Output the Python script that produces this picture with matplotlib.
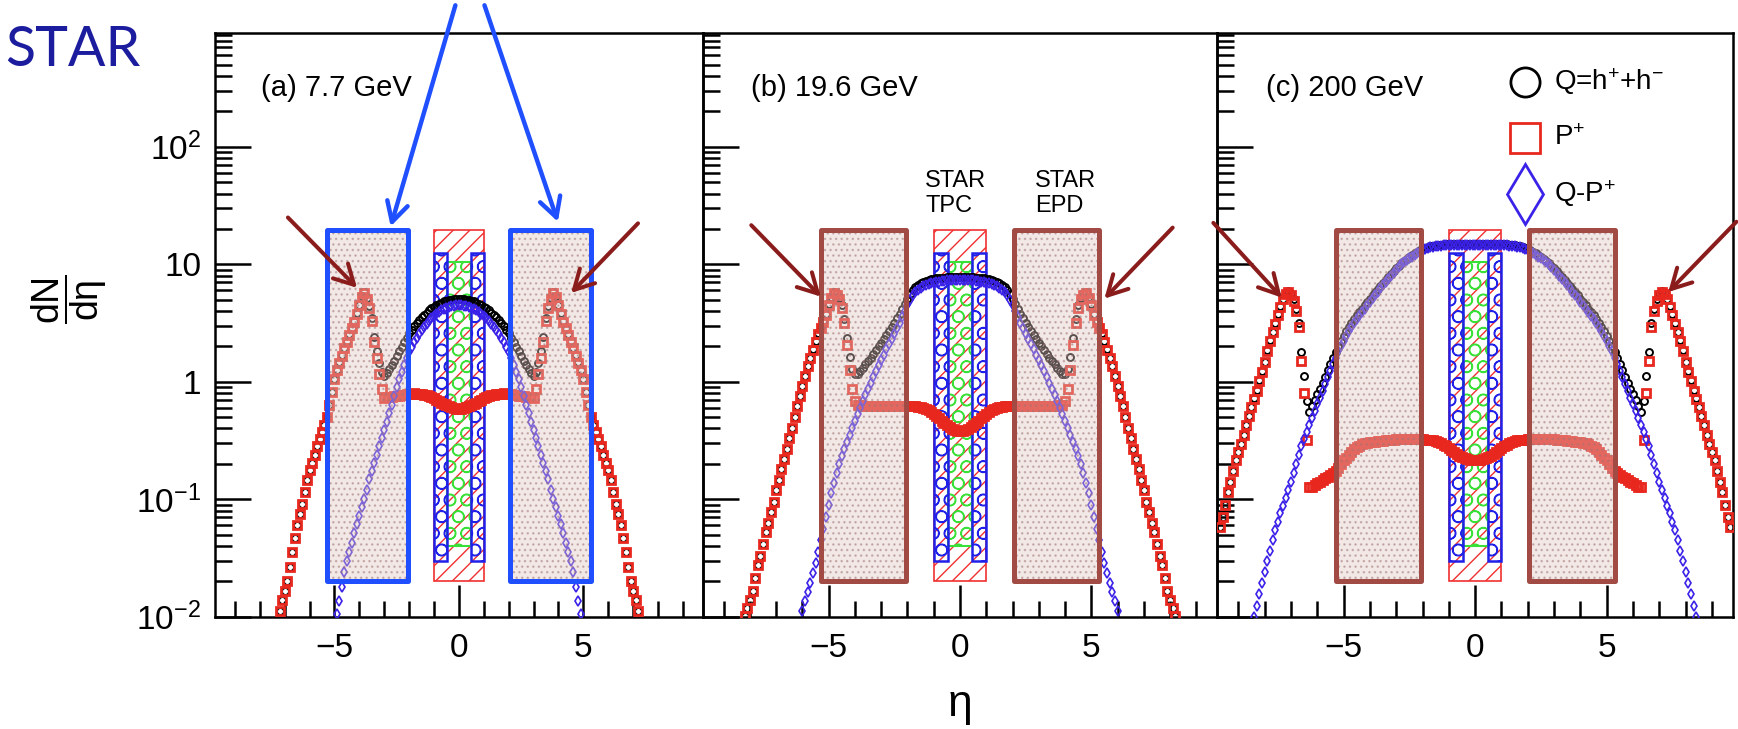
import numpy as np
import matplotlib
matplotlib.use('Agg')
import matplotlib.pyplot as plt
from matplotlib.patches import Rectangle
from matplotlib.ticker import LogLocator, MultipleLocator, NullFormatter

plt.rcParams['font.family'] = ['Liberation Sans', 'DejaVu Sans']
plt.rcParams['mathtext.fontset'] = 'custom'
plt.rcParams['mathtext.rm'] = 'Liberation Sans'
plt.rcParams['mathtext.it'] = 'Liberation Sans:italic'
plt.rcParams['mathtext.bf'] = 'Liberation Sans:bold'
plt.rcParams['hatch.linewidth'] = 1.0

DETA = 0.1  # eta bin width of the model histograms

# log10(dN/deta) for eta >= 0 (distributions are symmetric in eta)
# (a) 7.7 GeV
logq_77 = [0.704, 0.703, 0.702, 0.699, 0.696, 0.690, 0.683, 0.674, 0.664, 0.652,
           0.639, 0.624, 0.607, 0.589, 0.570, 0.549, 0.525, 0.499, 0.471, 0.442,
           0.413, 0.374, 0.335, 0.296, 0.258, 0.219, 0.179, 0.141, 0.107, 0.075,
           0.048, 0.080, 0.163, 0.261, 0.379, 0.542, 0.645, 0.710, 0.760, 0.727,
           0.657, 0.587, 0.517, 0.461, 0.406, 0.346, 0.290, 0.225, 0.164, 0.103,
           0.020, -0.090, -0.200, -0.300, -0.370, -0.430, -0.490, -0.550, -0.620, -0.690,
           -0.750, -0.840, -0.940, -1.040, -1.130, -1.220, -1.330, -1.450, -1.580, -1.700,
           -1.780, -1.860, -1.950]
logp_77 = [-0.230, -0.228, -0.224, -0.218, -0.210, -0.200, -0.189, -0.177, -0.165, -0.153,
           -0.142, -0.132, -0.123, -0.116, -0.110, -0.106, -0.103, -0.101, -0.100, -0.101,
           -0.104, -0.108, -0.112, -0.116, -0.119, -0.122, -0.125, -0.128, -0.130, -0.133,
           -0.135, -0.060, 0.070, 0.200, 0.340, 0.520, 0.630, 0.700, 0.752, 0.720,
           0.650, 0.580, 0.510, 0.455, 0.400, 0.340, 0.285, 0.220, 0.160, 0.100,
           0.020, -0.090, -0.200, -0.300, -0.370, -0.430, -0.490, -0.550, -0.620, -0.690,
           -0.750, -0.840, -0.940, -1.040, -1.130, -1.220, -1.330, -1.450, -1.580, -1.700,
           -1.780, -1.860, -1.950]
logqp_77 = [0.650, 0.649, 0.647, 0.643, 0.638, 0.630, 0.620, 0.608, 0.594, 0.578,
            0.560, 0.540, 0.518, 0.494, 0.468, 0.440, 0.408, 0.373, 0.335, 0.295,
            0.255, 0.200, 0.143, 0.083, 0.022, -0.045, -0.120, -0.195, -0.270, -0.345,
            -0.415, -0.480, -0.550, -0.620, -0.690, -0.760, -0.830, -0.920, -1.000, -1.070,
            -1.140, -1.210, -1.290, -1.370, -1.450, -1.530, -1.620, -1.750, -1.870, -1.980]

# (b) 19.6 GeV
logq_196 = [0.892, 0.892, 0.891, 0.891, 0.890, 0.888, 0.886, 0.884, 0.882, 0.879,
            0.875, 0.871, 0.865, 0.859, 0.850, 0.840, 0.827, 0.809, 0.782, 0.746,
            0.707, 0.663, 0.620, 0.578, 0.541, 0.504, 0.468, 0.433, 0.399, 0.366,
            0.333, 0.301, 0.267, 0.235, 0.204, 0.175, 0.147, 0.118, 0.090, 0.065,
            0.064, 0.107, 0.208, 0.371, 0.535, 0.653, 0.717, 0.753, 0.762, 0.719,
            0.659, 0.578, 0.517, 0.462, 0.411, 0.346, 0.275, 0.205, 0.135, 0.050,
            -0.035, -0.120, -0.210, -0.300, -0.390, -0.480, -0.570, -0.655, -0.745, -0.835,
            -0.925, -1.020, -1.110, -1.200, -1.280, -1.380, -1.480, -1.560, -1.670, -1.780,
            -1.860, -1.930, -1.990]
logp_196 = [-0.420, -0.418, -0.410, -0.400, -0.385, -0.370, -0.350, -0.330, -0.310, -0.290,
            -0.272, -0.256, -0.243, -0.233, -0.225, -0.218, -0.213, -0.210, -0.208, -0.207,
            -0.206, -0.205, -0.205, -0.204, -0.204, -0.204, -0.205, -0.205, -0.206, -0.206,
            -0.206, -0.207, -0.207, -0.207, -0.206, -0.205, -0.204, -0.203, -0.202, -0.200,
            -0.160, -0.060, 0.100, 0.310, 0.500, 0.630, 0.700, 0.740, 0.752, 0.710,
            0.650, 0.570, 0.510, 0.455, 0.405, 0.340, 0.270, 0.200, 0.130, 0.045,
            -0.040, -0.120, -0.210, -0.300, -0.390, -0.480, -0.570, -0.655, -0.745, -0.835,
            -0.925, -1.020, -1.110, -1.200, -1.280, -1.380, -1.480, -1.560, -1.670, -1.780,
            -1.860, -1.930, -1.990]
logqp_196 = [0.870, 0.870, 0.869, 0.868, 0.866, 0.863, 0.860, 0.857, 0.853, 0.848,
             0.843, 0.837, 0.830, 0.822, 0.812, 0.800, 0.785, 0.765, 0.735, 0.695,
             0.650, 0.600, 0.550, 0.500, 0.455, 0.410, 0.365, 0.320, 0.275, 0.230,
             0.185, 0.140, 0.090, 0.040, -0.010, -0.060, -0.110, -0.165, -0.220, -0.275,
             -0.330, -0.390, -0.450, -0.510, -0.570, -0.635, -0.700, -0.780, -0.860, -0.950,
             -1.050, -1.150, -1.250, -1.350, -1.450, -1.540, -1.630, -1.710, -1.790, -1.870,
             -1.950]

# (c) 200 GeV
logq_200 = [1.171, 1.171, 1.171, 1.173, 1.173, 1.173, 1.173, 1.173, 1.172, 1.172,
            1.171, 1.170, 1.169, 1.167, 1.164, 1.161, 1.158, 1.153, 1.148, 1.140,
            1.130, 1.119, 1.107, 1.092, 1.077, 1.063, 1.048, 1.031, 1.014, 0.989,
            0.965, 0.941, 0.917, 0.893, 0.869, 0.843, 0.816, 0.790, 0.764, 0.736,
            0.707, 0.679, 0.650, 0.621, 0.593, 0.564, 0.535, 0.501, 0.467, 0.428,
            0.390, 0.346, 0.301, 0.250, 0.198, 0.148, 0.097, 0.044, -0.010, -0.058,
            -0.107, -0.159, -0.210, -0.257, -0.162, 0.048, 0.254, 0.503, 0.621, 0.705,
            0.751, 0.775, 0.753, 0.708, 0.647, 0.573, 0.498, 0.427, 0.357, 0.267,
            0.172, 0.092, 0.012, -0.069, -0.139, -0.215, -0.295, -0.370, -0.450, -0.530,
            -0.600, -0.670, -0.760, -0.855, -0.940, -1.050, -1.150, -1.240]
logp_200 = [-0.670, -0.669, -0.665, -0.658, -0.650, -0.641, -0.630, -0.616, -0.600, -0.583,
            -0.565, -0.549, -0.535, -0.524, -0.515, -0.507, -0.500, -0.497, -0.495, -0.492,
            -0.490, -0.488, -0.487, -0.485, -0.485, -0.486, -0.487, -0.488, -0.489, -0.490,
            -0.490, -0.492, -0.495, -0.497, -0.500, -0.502, -0.505, -0.507, -0.510, -0.512,
            -0.515, -0.519, -0.525, -0.534, -0.545, -0.559, -0.575, -0.596, -0.620, -0.645,
            -0.670, -0.702, -0.735, -0.760, -0.780, -0.796, -0.810, -0.822, -0.835, -0.850,
            -0.865, -0.880, -0.895, -0.900, -0.500, -0.100, 0.180, 0.470, 0.600, 0.690,
            0.740, 0.766, 0.745, 0.700, 0.640, 0.565, 0.490, 0.420, 0.350, 0.260,
            0.165, 0.085, 0.005, -0.075, -0.145, -0.215, -0.295, -0.370, -0.450, -0.530,
            -0.600, -0.670, -0.760, -0.855, -0.940, -1.050, -1.150, -1.240]
logqp_200 = [1.165, 1.165, 1.165, 1.166, 1.166, 1.166, 1.166, 1.166, 1.165, 1.164,
             1.163, 1.162, 1.160, 1.158, 1.155, 1.152, 1.148, 1.143, 1.138, 1.130,
             1.120, 1.108, 1.095, 1.080, 1.065, 1.050, 1.035, 1.018, 1.000, 0.975,
             0.950, 0.925, 0.900, 0.875, 0.850, 0.823, 0.795, 0.768, 0.740, 0.710,
             0.680, 0.650, 0.620, 0.590, 0.560, 0.530, 0.500, 0.465, 0.430, 0.390,
             0.350, 0.305, 0.260, 0.205, 0.150, 0.095, 0.040, -0.020, -0.080, -0.135,
             -0.190, -0.250, -0.310, -0.370, -0.430, -0.490, -0.550, -0.625, -0.700, -0.775,
             -0.850, -0.920, -0.990, -1.055, -1.120, -1.190, -1.260, -1.350, -1.440, -1.530,
             -1.620, -1.715, -1.810, -1.905, -2.000]

panel_labels = ['(a) 7.7 GeV', '(b) 19.6 GeV', '(c) 200 GeV']
series = [(logq_77, logp_77, logqp_77),
          (logq_196, logp_196, logqp_196),
          (logq_200, logp_200, logqp_200)]

# detector acceptance boxes (eta ranges, dN/deta extent)
epd_eta = [2.05, 5.3]
tpc_eta = 1.0
tpc_inner = 0.47
box_y = [0.02, 19.5]
tpc_side_y = [0.03, 12.4]
tpc_mid_y = [0.04, 10.5]

# arrows (tail, tip) in data coords
peak_arrows = [[((-6.87, 25.0), (-4.09, 6.3)), ((7.2, 22.3), (4.51, 5.7))],
               [((-7.95, 21.5), (-5.3, 5.3)), ((8.1, 20.5), (5.5, 5.1))],
               [((-9.95, 22.5), (-7.35, 5.2)), ((9.93, 23.0), (7.34, 5.8))]]
epd_arrows = [((-0.14, 1600.0), (-2.74, 21.0)), ((1.03, 1600.0), (3.98, 23.0))]

c_q, c_p, c_qp = 'black', '#E8281E', '#3B22E8'
c_epd_a, c_epd = '#1F4FFF', '#A24B45'
c_arrow = '#8B1C1C'


def mirror(logs):
    vals = 10.0 ** np.asarray(logs)
    eta = DETA * np.arange(len(vals))
    return np.concatenate([-eta[:0:-1], eta]), np.concatenate([vals[:0:-1], vals])


def arrow(ax, tail, tip, color, lw):
    ax.annotate('', xy=tip, xytext=tail, xycoords='data', textcoords='data',
                annotation_clip=False, zorder=9,
                arrowprops=dict(arrowstyle='->,head_length=0.7,head_width=0.38',
                                color=color, lw=lw, mutation_scale=20,
                                shrinkA=0, shrinkB=0))


fig = plt.figure(figsize=(17.38, 7.29), dpi=100)
bottom, height = 0.15405, 0.80069
lefts = [0.12371, 0.40432, 0.70040]
widths = [0.28061, 0.29609, 0.29672]

for i in range(3):
    ax = fig.add_axes([lefts[i], bottom, widths[i], height])
    ax.set_facecolor('none')
    ax.set_yscale('log')
    ax.set_xlim(-9.8, 9.8)
    ax.set_ylim(0.01, 930)

    # TPC acceptance
    ax.add_patch(Rectangle((-tpc_eta, box_y[0]), 2 * tpc_eta, box_y[1] - box_y[0],
                           fill=False, edgecolor='#F03030', lw=1.2, hatch='//', zorder=1))
    ax.add_patch(Rectangle((-tpc_inner, tpc_mid_y[0]), 2 * tpc_inner, tpc_mid_y[1] - tpc_mid_y[0],
                           fill=False, edgecolor='#38E038', lw=1.5, hatch='O', zorder=1.1))
    for x0 in (-tpc_eta, tpc_inner):
        ax.add_patch(Rectangle((x0, tpc_side_y[0]), tpc_eta - tpc_inner, tpc_side_y[1] - tpc_side_y[0],
                               fill=False, edgecolor='#2020E8', lw=1.8, hatch='O', zorder=1.2))

    lq, lp, lqp = series[i]
    ex, yv = mirror(lq)
    ax.plot(ex, yv, ls='none', marker='o', ms=5.0, mfc='none', mec=c_q, mew=1.4, zorder=3)
    ex, yv = mirror(lp)
    ax.plot(ex, yv, ls='none', marker='s', ms=6.0, mfc='none', mec=c_p, mew=2.0, zorder=4)
    ex, yv = mirror(lqp)
    ax.plot(ex, yv, ls='none', marker='d', ms=5.5, mfc='none', mec=c_qp, mew=1.2, zorder=5)

    # EPD acceptance, drawn over the points
    edge = c_epd_a if i == 0 else c_epd
    for lo, hi in ((-epd_eta[1], -epd_eta[0]), (epd_eta[0], epd_eta[1])):
        ax.add_patch(Rectangle((lo, box_y[0]), hi - lo, box_y[1] - box_y[0],
                               facecolor=(0.88, 0.78, 0.76, 0.40),
                               edgecolor=(0.62, 0.45, 0.45, 0.45),
                               lw=0, hatch='...', zorder=6))
        ax.add_patch(Rectangle((lo, box_y[0]), hi - lo, box_y[1] - box_y[0],
                               fill=False, edgecolor=edge, lw=3.6,
                               joinstyle='round', zorder=7))

    for tail, tip in peak_arrows[i]:
        arrow(ax, tail, tip, c_arrow, 2.9)
    if i == 0:
        for tail, tip in epd_arrows:
            arrow(ax, tail, tip, c_epd_a, 3.2)

    ax.text(0.094, 0.905, panel_labels[i], transform=ax.transAxes,
            fontsize=21, ha='left', va='center')

    # axes styling
    for sp in ax.spines.values():
        sp.set_linewidth(1.8)
    ax.set_xticks([-5, 0, 5])
    ax.xaxis.set_minor_locator(MultipleLocator(1))
    ax.set_yticks([0.01, 0.1, 1, 10, 100])
    ax.yaxis.set_minor_locator(LogLocator(base=10, subs=np.arange(2, 10), numticks=20))
    ax.yaxis.set_minor_formatter(NullFormatter())
    ax.tick_params(axis='both', which='both', direction='in', top=False, right=False, width=1.8)
    ax.tick_params(axis='y', which='major', length=26, labelsize=24, pad=10)
    ax.tick_params(axis='y', which='minor', length=12.5)
    ax.tick_params(axis='x', which='major', length=23, labelsize=24, pad=12)
    ax.tick_params(axis='x', which='minor', length=11.5)
    if i == 0:
        ax.set_yticklabels(['$10^{-2}$', '$10^{-1}$', '1', '10', '$10^{2}$'])
    else:
        ax.tick_params(axis='y', which='both', labelleft=False)

    if i == 1:
        ax.text(-1.32, 40, 'STAR\nTPC', fontsize=17, ha='left', va='center',
                linespacing=1.15, zorder=8)
        ax.text(2.86, 40, 'STAR\nEPD', fontsize=17, ha='left', va='center',
                linespacing=1.15, zorder=8)

    if i == 2:
        entries = [('o', 21, 'Q=h$^{+}$+h$^{-}$', c_q),
                   ('s', 21, 'P$^{+}$', c_p),
                   ('d', 31, 'Q-P$^{+}$', c_qp)]
        for k, (mk, ms, lab, col) in enumerate(entries):
            yy = 0.916 - 0.0955 * k
            ax.plot([0.597], [yy], transform=ax.transAxes, marker=mk, ms=ms,
                    mfc='none', mec=col, mew=2.0, clip_on=False)
            ax.text(0.652, yy, lab, transform=ax.transAxes, fontsize=20,
                    ha='left', va='center')

fig.text(0.003, 0.931, 'STAR', color='#1C1C9E', fontsize=40, family='Lato',
         ha='left', va='center')
fig.text(0.040, 0.59, r'$\dfrac{\mathrm{dN}}{\mathrm{dη}}$', fontsize=27,
         rotation=90, ha='center', va='center')
fig.text(0.5524, 0.033, 'η', fontsize=32, ha='center', va='center')

fig.savefig('out.png', dpi=100)
